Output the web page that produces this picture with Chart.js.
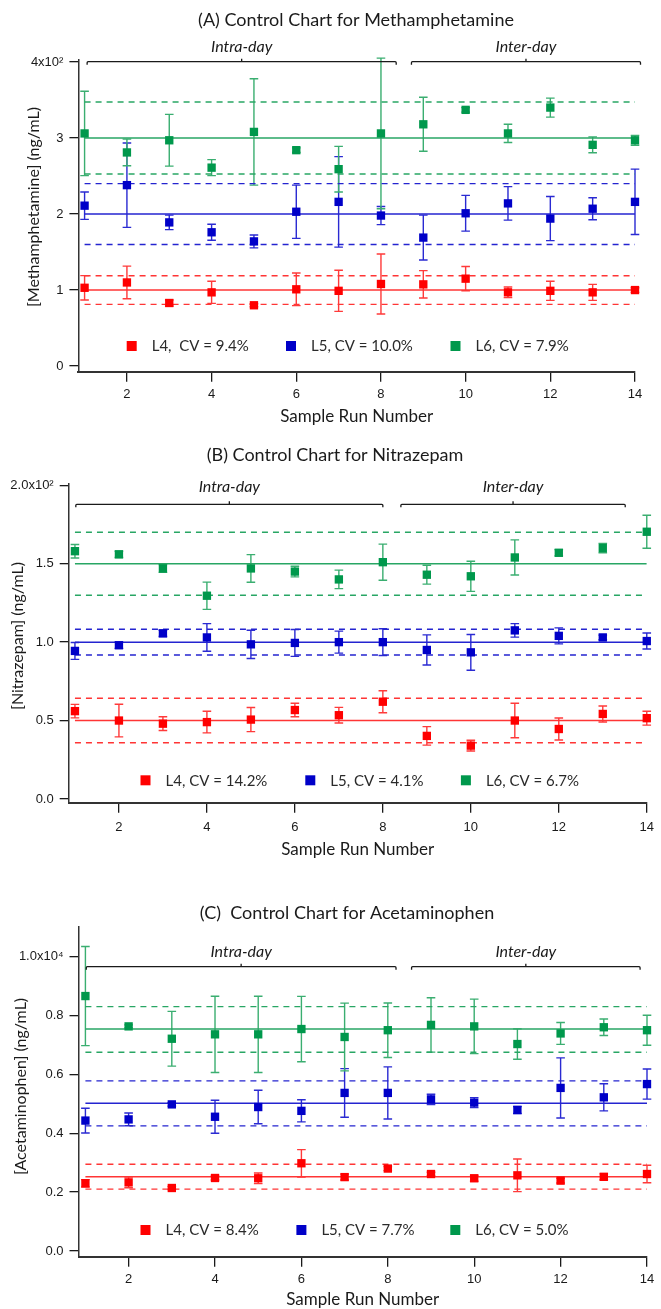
<!DOCTYPE html>
<html>
<head>
<meta charset="utf-8">
<title>Control Charts</title>
<script src="https://cdn.jsdelivr.net/npm/chart.js@4.4.1/dist/chart.umd.min.js"></script>
<style>
  html, body { margin: 0; padding: 0; background: #ffffff; overflow: hidden; }
  #wrap { position: relative; width: 661px; height: 1309px; }
  .panel { position: absolute; left: 0; width: 661px; }
  canvas { display: block; }
</style>
</head>
<body>
<div id="wrap">
  <div class="panel" style="top:0px;height:430px"><canvas id="chartA" width="661" height="430"></canvas></div>
  <div class="panel" style="top:430px;height:440px"><canvas id="chartB" width="661" height="440"></canvas></div>
  <div class="panel" style="top:870px;height:440px"><canvas id="chartC" width="661" height="440"></canvas></div>
</div>
<script>
// ---------- shared ----------
const runs = [1, 2, 3, 4, 5, 6, 7, 8, 9, 10, 11, 12, 13, 14];
const runTicks = [2, 4, 6, 8, 10, 12, 14];
const levelNames = ['L4', 'L5', 'L6'];

// ---------- (A) Methamphetamine, ng/mL ----------
const methL4 = [103, 110, 83, 97, 80, 101, 99, 108, 107.5, 115, 97, 99, 97, 100];
const methL4Err = [16, 21.5, 4, 14.5, 2, 21.5, 27, 39.5, 18, 16, 7, 12.5, 10.5, 3];
const methL5 = [211, 238, 189, 176, 164, 203, 216, 198, 169, 201, 214, 194, 207, 216];
const methL5Err = [18, 55.5, 9.5, 10.5, 8.5, 35, 59.5, 12, 29.5, 23.5, 22, 29, 14.5, 43];
const methL6 = [306, 281, 297, 261, 308, 284, 259, 306, 318, 337, 306, 340, 291, 297];
const methL6Err = [55.5, 17.5, 34, 10.5, 70, 3, 30, 99, 35.5, 3, 12, 12.5, 10.5, 6.5];
const methMean = [100, 200, 300];
const methUpper = [118.8, 240, 347.4];
const methLower = [81.2, 160, 252.6];
const methCV = ['9.4%', '10.0%', '7.9%'];
const methTicks = [0, 100, 200, 300, 400];
const methTickLabels = ['0', '1', '2', '3', '4x10²'];

// ---------- (B) Nitrazepam, ng/mL ----------
const nitL4 = [56, 50, 48, 49, 50.6, 56.7, 53.4, 62, 40.2, 34, 50, 44.6, 54.2, 51.5];
const nitL4Err = [4.3, 10.4, 4.4, 6.9, 7.7, 4.3, 5, 7, 5.9, 3.4, 11, 7, 5.1, 4.4];
const nitL5 = [94.4, 98, 105.6, 103, 98.6, 99.5, 100, 100, 95, 93.5, 107.5, 104, 103, 100.7];
const nitL5Err = [5.4, 2, 2, 8.8, 9, 8.6, 7, 8.5, 9.6, 11.4, 4.3, 5.1, 1.5, 5.1];
const nitL6 = [158, 156, 147, 129.6, 147, 145, 140, 151, 143, 142, 154, 157, 160, 170.4];
const nitL6Err = [4.3, 2, 2.5, 8.7, 8.8, 3.4, 5.9, 11.5, 6, 9.6, 11.2, 2, 3, 10.5];
const nitMean = [50, 100, 150];
const nitUpper = [64.2, 108.2, 170.1];
const nitLower = [35.8, 91.8, 129.9];
const nitCV = ['14.2%', '4.1%', '6.7%'];
const nitTicks = [0, 50, 100, 150, 200];
const nitTickLabels = ['0.0', '0.5', '1.0', '1.5', '2.0x10²'];

// ---------- (C) Acetaminophen, ng/mL ----------
const apapL4 = [2300, 2330, 2140, 2480, 2470, 2980, 2510, 2800, 2615, 2470, 2570, 2390, 2520, 2615];
const apapL4Err = [125, 180, 50, 70, 180, 465, 100, 70, 60, 100, 555, 80, 100, 295];
const apapL5 = [4430, 4470, 4980, 4560, 4890, 4760, 5370, 5370, 5150, 5040, 4790, 5540, 5220, 5670];
const apapL5Err = [420, 215, 60, 560, 570, 375, 825, 885, 175, 170, 120, 1020, 460, 510];
const apapL6 = [8660, 7630, 7210, 7360, 7360, 7540, 7270, 7500, 7680, 7630, 7030, 7390, 7600, 7500];
const apapL6Err = [1685, 50, 930, 1295, 1295, 1110, 1150, 925, 925, 925, 515, 370, 280, 510];
const apapMean = [2520, 5020, 7540];
const apapUpper = [2945, 5780, 8300];
const apapLower = [2100, 4250, 6750];
const apapCV = ['8.4%', '7.7%', '5.0%'];
const apapTicks = [0, 2000, 4000, 6000, 8000, 10000];
const apapTickLabels = ['0.0', '0.2', '0.4', '0.6', '0.8', '1.0x10⁴'];

// ---------- styling ----------
const markerColors = ['#ff0000', '#0000c8', '#00984c'];
const lineColors = ['#ff3535', '#2424d0', '#28a664'];
const barColors = ['#ff3a3a', '#2a2ad2', '#3aae70'];
const INK = '#1a1a1a';
const TEXT_FONT = 'Lato, "Open Sans", sans-serif';
const TICK_FONT = '"Liberation Sans", Arial, sans-serif';

// vertical error bars with caps, drawn through the chart's own scales
const errorBarPlugin = {
  id: 'errorBars',
  beforeDatasetsDraw(chart) {
    const { ctx, scales: { x, y } } = chart;
    chart.data.datasets.forEach((ds, i) => {
      if (!ds.errors || !chart.isDatasetVisible(i)) return;
      ctx.save();
      ctx.strokeStyle = ds.errorColor;
      ctx.lineWidth = 1.4;
      const cap = 4.3;
      ds.data.forEach((pt, j) => {
        const e = ds.errors[j];
        const px = x.getPixelForValue(pt.x);
        const top = y.getPixelForValue(pt.y + e);
        const bot = y.getPixelForValue(pt.y - e);
        ctx.beginPath();
        ctx.moveTo(px, top); ctx.lineTo(px, bot);
        ctx.moveTo(px - cap, top); ctx.lineTo(px + cap, top);
        ctx.moveTo(px - cap, bot); ctx.lineTo(px + cap, bot);
        ctx.stroke();
      });
      ctx.restore();
    });
  }
};

// titles, "Intra-day"/"Inter-day" brackets, y-axis title and the in-plot legend
const decorPlugin = {
  id: 'decor',
  afterDraw(chart, args, opts) {
    const { ctx, scales: { x, y } } = chart;
    ctx.save();
    ctx.fillStyle = INK;
    ctx.textAlign = 'center';
    ctx.textBaseline = 'middle';

    // panel title
    ctx.font = `18px ${TEXT_FONT}`;
    ctx.fillText(opts.title.text, opts.title.x, opts.title.y);

    // y-axis title
    ctx.save();
    ctx.translate(opts.yTitle.x, opts.yTitle.y);
    ctx.rotate(-Math.PI / 2);
    ctx.font = `16px ${TEXT_FONT}`;
    ctx.fillText(opts.yTitle.text, 0, 0);
    ctx.restore();

    // brackets
    ctx.strokeStyle = INK;
    ctx.lineWidth = 1.3;
    const by = y.getPixelForValue(opts.brackets.y);
    opts.brackets.items.forEach(b => {
      const x0 = x.getPixelForValue(b.from);
      const x1 = x.getPixelForValue(b.to);
      const xm = (x0 + x1) / 2;
      ctx.beginPath();
      ctx.moveTo(x0, by + 3); ctx.lineTo(x0, by + 1);
      ctx.quadraticCurveTo(x0, by, x0 + 1, by);
      ctx.lineTo(x1 - 1, by);
      ctx.quadraticCurveTo(x1, by, x1, by + 1);
      ctx.lineTo(x1, by + 3);
      ctx.moveTo(xm, by); ctx.lineTo(xm, by - 3);
      ctx.stroke();
      ctx.font = `italic 16px ${TEXT_FONT}`;
      ctx.fillText(b.label, xm, by - opts.brackets.labelGap);
    });

    // legend
    ctx.textAlign = 'left';
    ctx.font = `15px ${TEXT_FONT}`;
    opts.legend.items.forEach((it, k) => {
      ctx.fillStyle = markerColors[k];
      ctx.fillRect(it.x - 5, opts.legend.y - 5, 10, 10);
      ctx.fillStyle = '#2a2a2a';
      ctx.fillText(it.text, it.x + 20, opts.legend.y + 0.5);
    });
    ctx.restore();
  }
};

function makePanel(canvasId, p) {
  const series = [p.l4, p.l5, p.l6];
  const errs = [p.l4Err, p.l5Err, p.l6Err];
  const datasets = [];
  // mean and control-limit lines, spanning the first to the last run
  for (let k = 0; k < 3; k++) {
    const first = runs[0], last = runs[runs.length - 1];
    datasets.push({
      type: 'line', data: [{ x: first, y: p.mean[k] }, { x: last, y: p.mean[k] }],
      borderColor: lineColors[k], borderWidth: 1.5, pointRadius: 0, order: 3
    });
    [p.upper[k], p.lower[k]].forEach(v => datasets.push({
      type: 'line', data: [{ x: first, y: v }, { x: last, y: v }],
      borderColor: lineColors[k], borderWidth: 1.4, borderDash: [6, 5], pointRadius: 0, order: 3
    }));
  }
  // measured points with error bars
  for (let k = 0; k < 3; k++) {
    datasets.push({
      type: 'line', label: levelNames[k], showLine: false,
      data: runs.map((r, j) => ({ x: r, y: series[k][j] })),
      errors: errs[k], errorColor: barColors[k],
      pointStyle: 'rect', pointRadius: 5.9, pointHoverRadius: 5.9,
      pointBackgroundColor: markerColors[k], pointBorderColor: markerColors[k], pointBorderWidth: 0,
      clip: false, order: 1
    });
  }

  return new Chart(document.getElementById(canvasId), {
    type: 'scatter',
    data: { datasets },
    plugins: [errorBarPlugin, decorPlugin],
    options: {
      responsive: false,
      animation: false,
      events: [],
      layout: { padding: { left: 0, top: p.box.top, right: p.box.right, bottom: p.box.bottom } },
      plugins: {
        legend: { display: false },
        tooltip: { enabled: false },
        decor: {
          title: p.title,
          yTitle: p.yTitle,
          brackets: p.brackets,
          legend: {
            y: p.legendY,
            items: levelNames.map((n, k) => ({ x: p.legendX[k], text: `${n},${k === 0 && p.wideL4 ? '  ' : ' '}CV = ${p.cv[k]}` }))
          }
        }
      },
      scales: {
        x: {
          type: 'linear', min: p.xMin, max: runs[runs.length - 1],
          afterFit(s) { s.height = p.box.xHeight; },
          afterBuildTicks(s) { s.ticks = runTicks.map(v => ({ value: v })); },
          grid: { drawOnChartArea: false, drawTicks: true, tickLength: 10, color: INK, lineWidth: 1.3 },
          border: { display: true, color: '#333', width: 2 },
          ticks: { color: INK, font: { family: TICK_FONT, size: 13 }, padding: p.xTickPad, maxRotation: 0 },
          title: { display: true, text: 'Sample Run Number', color: INK, font: { family: TEXT_FONT, size: 17 }, padding: { top: 0, bottom: 0 } }
        },
        y: {
          type: 'linear', min: p.yMin, max: p.yMax,
          afterFit(s) { s.width = p.box.left; },
          afterBuildTicks(s) { s.ticks = p.ticks.map(v => ({ value: v })); },
          grid: { drawOnChartArea: false, drawTicks: true, tickLength: 9, color: INK, lineWidth: 1.3 },
          border: { display: true, color: '#333', width: 1.5 },
          ticks: { color: INK, font: { family: TICK_FONT, size: 13 }, padding: 6, callback: (v, i) => p.tickLabels[i] }
        }
      }
    }
  });
}

makePanel('chartA', {
  l4: methL4, l4Err: methL4Err, l5: methL5, l5Err: methL5Err, l6: methL6, l6Err: methL6Err,
  mean: methMean, upper: methUpper, lower: methLower, cv: methCV, wideL4: true,
  ticks: methTicks, tickLabels: methTickLabels,
  yMin: -7.5, yMax: 403.5, xMin: 0.854,
  box: { top: 59.3, left: 78.4, right: 26, bottom: 3, xHeight: 55.2 }, xTickPad: 5,
  title: { text: '(A) Control Chart for Methamphetamine', x: 356, y: 20 },
  yTitle: { text: '[Methamphetamine] (ng/mL)', x: 34, y: 207 },
  brackets: { y: 400.4, labelGap: 15, items: [{ from: 1.06, to: 8.36, label: 'Intra-day' }, { from: 8.72, to: 14.13, label: 'Inter-day' }] },
  legendY: 346, legendX: [131.7, 291, 455.5]
});

makePanel('chartB', {
  l4: nitL4, l4Err: nitL4Err, l5: nitL5, l5Err: nitL5Err, l6: nitL6, l6Err: nitL6Err,
  mean: nitMean, upper: nitUpper, lower: nitLower, cv: nitCV, wideL4: false,
  ticks: nitTicks, tickLabels: nitTickLabels,
  yMin: -2.4, yMax: 201.3, xMin: 0.858,
  box: { top: 53.3, left: 68.7, right: 9.6, bottom: 10, xHeight: 57.3 }, xTickPad: 7,
  title: { text: '(B) Control Chart for Nitrazepam', x: 335, y: 25 },
  yTitle: { text: '[Nitrazepam] (ng/mL)', x: 18, y: 206 },
  brackets: { y: 187.9, labelGap: 17.6, items: [{ from: 1.02, to: 8.0, label: 'Intra-day' }, { from: 8.41, to: 13.51, label: 'Inter-day' }] },
  legendY: 350.3, legendX: [145.5, 310.3, 465.9]
});

makePanel('chartC', {
  l4: apapL4, l4Err: apapL4Err, l5: apapL5, l5Err: apapL5Err, l6: apapL6, l6Err: apapL6Err,
  mean: apapMean, upper: apapUpper, lower: apapLower, cv: apapCV, wideL4: false,
  ticks: apapTicks, tickLabels: apapTickLabels,
  yMin: -194, yMax: 11016, xMin: 0.84,
  box: { top: 56.7, left: 78.5, right: 14, bottom: 0, xHeight: 53.3 }, xTickPad: 5,
  title: { text: '(C)  Control Chart for Acetaminophen', x: 347, y: 43.3 },
  yTitle: { text: '[Acetaminophen] (ng/mL)', x: 21, y: 216.5 },
  brackets: { y: 9657, labelGap: 15, items: [{ from: 1.02, to: 8.19, label: 'Intra-day' }, { from: 8.55, to: 13.84, label: 'Inter-day' }] },
  legendY: 360, legendX: [145.5, 301.4, 455.3]
});
</script>
</body>
</html>
